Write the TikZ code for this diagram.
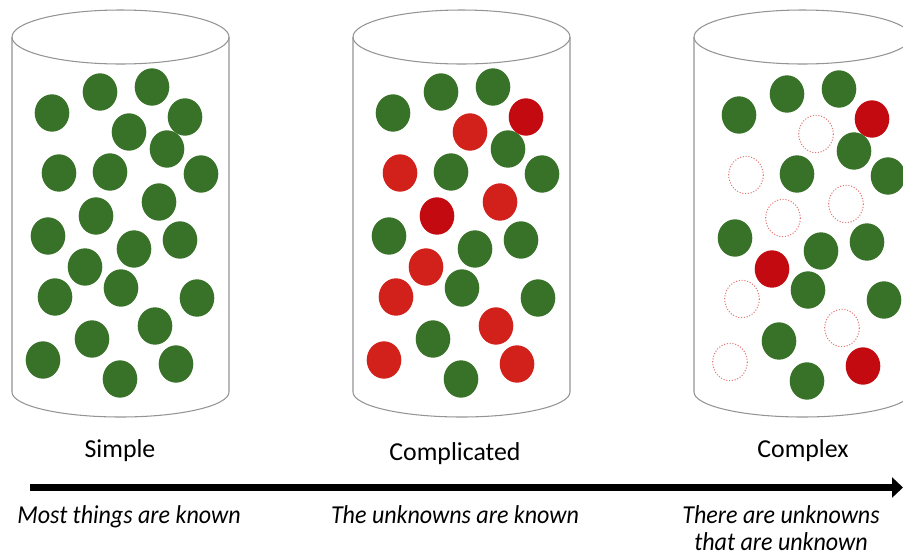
\documentclass[tikz,border=0pt]{standalone}
\usepackage{fontspec}
\setmainfont{Carlito}
\newfontfamily\notefont{Carlito}[FakeStretch=0.93]
\usepackage{tikz}
\usetikzlibrary{arrows.meta}

\definecolor{leaf}{RGB}{56,113,40}
\definecolor{berry}{RGB}{210,32,26}
\definecolor{berrydark}{RGB}{194,10,16}

% one open jar: top rim, two sides and the front half of the floor
\newcommand{\jar}[1]{%
  \draw[jar] (#1,37) ellipse [x radius=108.5, y radius=27];
  \draw[jar] (#1-108.5,37) -- (#1-108.5,392)
    arc [start angle=180, end angle=0, x radius=108.5, y radius=25]
    -- (#1+108.5,37);
}

\begin{document}
\begin{tikzpicture}[x=0.02cm, y=-0.02cm,
    jar/.style={draw=black!42, line width=0.6pt},
    ball g/.style={fill=leaf},
    ball r/.style={fill=berry},
    ball d/.style={fill=berrydark},
    ball o/.style={draw=berry!60, densely dotted, line width=0.6pt},
    label/.style={anchor=base, font=\fontsize{14.7}{17.6}\selectfont},
    note/.style={anchor=base, align=center,
      font=\notefont\fontsize{14.7}{15.3}\selectfont\itshape},
    timeline/.style={line width=0.13cm, -{Triangle[length=0.22cm, width=0.4cm]}}]
  \useasboundingbox (0,0) rectangle (903,555);

  \jar{120.5}
  \jar{461.5}
  \jar{802.5}

  % same spots in every jar, coloured per jar
  \foreach \x/\y/\b/\c in {52/113/g/g, 100/92/g/g, 152/87/g/g, 185/117/d/d,
      129/132/r/o, 167/149/g/g, 59/173/r/o, 110/172/g/g, 201/174/g/g,
      159/202/r/o, 96/216/d/o, 48/236/g/g, 134/249/g/g, 180/240/g/g,
      85/267/r/d, 121/288/g/g, 55/297/r/o, 197/298/g/g, 155/326/r/o,
      92/339/g/g, 43/360/r/o, 120/379/g/g, 176/364/r/d} {
    \path[ball g] (\x,\y) ellipse [x radius=17.3, y radius=18.7];
    \path[ball \b] (\x+341,\y) ellipse [x radius=17.3, y radius=18.7];
    \path[ball \c] (\x+687,\y+2) ellipse [x radius=17.3, y radius=18.7];
  }

  \node[label] (simple) at (120,457) {Simple};
  \node[label] (complicated) at (455,460) {Complicated};
  \node[label] (complex) at (803,457) {Complex};

  \coordinate (from) at (30,487.5);
  \coordinate (to) at (903,487.5);
  \draw[timeline] (from) -- (to);

  \node[note] (known) at (129,523) {Most things are known};
  \node[note] (knownunknowns) at (455,523) {The unknowns are known};
  \node[note] (unknownunknowns) at (781,550) {There are unknowns\\that are unknown};
\end{tikzpicture}
\end{document}
